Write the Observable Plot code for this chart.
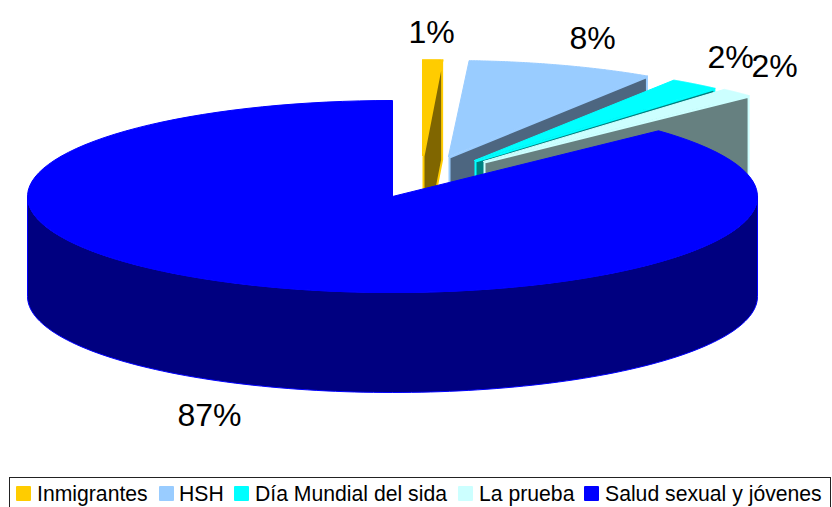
<!DOCTYPE html>
<html><head><meta charset="utf-8">
<script src="https://cdn.jsdelivr.net/npm/d3@7"></script>
<script src="https://cdn.jsdelivr.net/npm/@observablehq/plot@0.6"></script>
<style>
html,body{margin:0;padding:0;background:#fff;overflow:hidden}
#chart svg{display:block}
#legend{position:absolute;left:9px;top:477px;width:820px;height:29px;border:1px solid #222;font:21.2px "Liberation Sans",Arial,sans-serif;color:#000;}
#legend span{position:absolute;top:3px;white-space:nowrap;line-height:25px}
#legend i{position:absolute;top:8px;width:15px;height:15px;border-radius:1px}
</style></head><body>
<div id="chart"></div><div id="legend"></div>
<script>
const categories = ["Inmigrantes","HSH","Día Mundial del sida","La prueba","Salud sexual y jóvenes"];
const shares = [0.9, 8.3, 2.27, 1.53, 87];
const labels = ["1%","8%","2%","2%","87%"];
const topColors = ["#FFCC00","#99CCFF","#00FFFF","#CCFFFF","#0000FF"];
const faceColors = ["#806600","#4D6680","#008080","#668080","#000080"];

// layout
const rx = 365, ry = 96, depth = 100;
const apexX = [422,448,474,483,392];
const apexY = [155,156,160,161,196];
const labelX = [431,592,730,774,209];
const labelY = [42,48,67,76,425];
const swatchX = [6,149,224,448,574];
const textX = [27,169,245,469,595];

const total = d3.sum(shares);
let run = 0;
const slices = shares.map((v,i)=>{const a0=run/total*2*Math.PI; run+=v; return {i,a0,a1:run/total*2*Math.PI,ax:apexX[i],ay:apexY[i]};});
const onRim = (s,a,dy=0)=>[s.ax+rx*Math.sin(a), s.ay-ry*Math.cos(a)+dy];
const arc = (s,a0,a1,dy=0)=>d3.range(0,121).map(k=>onRim(s,a0+(a1-a0)*k/120,dy));

const polys=[];
slices.slice(0,4).forEach(s=>{
  const e=onRim(s,s.a1);
  polys.push({pts:[[s.ax,s.ay],...arc(s,s.a0,s.a1)],fill:topColors[s.i],stroke:topColors[s.i],sw:1});
  polys.push({pts:[[s.ax+1,s.ay+1],[e[0]-1,e[1]+1],[e[0]-1,e[1]+depth],[s.ax+1,s.ay+depth]],fill:faceColors[s.i],stroke:topColors[s.i],sw:2});
});
const main=slices[4];
polys.push({pts:[...arc(main,Math.PI/2,3*Math.PI/2),...arc(main,3*Math.PI/2,Math.PI/2,depth)],fill:faceColors[4],stroke:topColors[4],sw:1});
polys.push({pts:[[main.ax,main.ay],...arc(main,main.a0,main.a1)],fill:topColors[4],stroke:topColors[4],sw:1});

const marks=polys.map(p=>Plot.line([...p.pts,p.pts[0]],{x:d=>d[0],y:d=>d[1],fill:p.fill,stroke:p.stroke,strokeWidth:p.sw,curve:"linear"}));
marks.push(Plot.text(labels,{x:(d,i)=>labelX[i],y:(d,i)=>labelY[i],text:d=>d,fontSize:32,fontFamily:"Liberation Sans",fill:"#000",textAnchor:"middle",lineAnchor:"bottom"}));

document.getElementById("chart").appendChild(Plot.plot({
  width:832,height:470,margin:0,
  x:{domain:[0,832],range:[0,832],axis:null},
  y:{domain:[0,470],range:[0,470],axis:null},
  marks
}));
const lg=document.getElementById("legend");
categories.forEach((c,i)=>{
  const sw=document.createElement("i");sw.style.left=swatchX[i]+"px";sw.style.background=topColors[i];lg.appendChild(sw);
  const t=document.createElement("span");t.style.left=textX[i]+"px";t.textContent=c;lg.appendChild(t);
});
</script></body></html>
